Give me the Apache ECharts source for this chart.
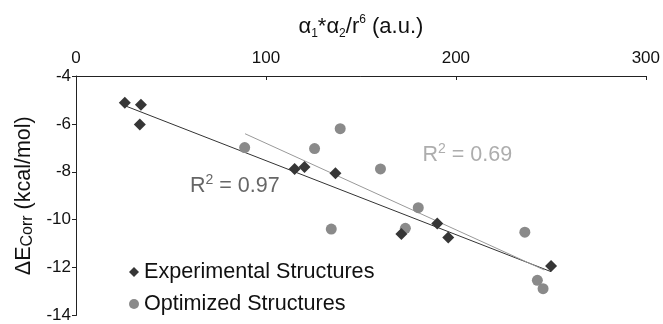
<!DOCTYPE html>
<html>
<head>
<meta charset="utf-8">
<script src="https://cdn.jsdelivr.net/npm/echarts@6/dist/echarts.min.js"></script>
<style>
html,body{margin:0;padding:0;background:#fff;}
#chart{width:663px;height:324px;}
</style>
</head>
<body>
<div id="chart"></div>
<script>
// Data
const expX = [25.7, 34.2, 33.6, 115.1, 120.3, 136.6, 171.3, 190.2, 196.0, 250.1];
const expY = [-5.12, -5.20, -6.02, -7.88, -7.80, -8.06, -10.60, -10.16, -10.74, -11.93];
const optX = [88.8, 125.6, 139.1, 160.3, 134.4, 173.4, 180.2, 236.3, 242.9, 245.9];
const optY = [-6.99, -7.03, -6.20, -7.88, -10.39, -10.36, -9.50, -10.52, -12.53, -12.88];
// trend line end points
const expTrendX = [25.7, 250.1];
const expTrendY = [-5.24, -12.17];
const optTrendX = [89.0, 246.5];
const optTrendY = [-6.41, -12.10];
const r2Values = ['0.97', '0.69'];
const xTicks = [0, 100, 200, 300];
const yTicks = [-14, -12, -10, -8, -6, -4];

const zip = (a, b) => a.map((v, i) => [v, b[i]]);
const FONT = '"Liberation Sans", Arial, sans-serif';

function r2Label(val, color) {
  return {
    formatter: '{r|R}{p|2}{r| = ' + val + '}',
    rich: {
      r: {fontSize: 21.5, color: color, lineHeight: 24, verticalAlign: 'bottom', fontFamily: FONT},
      p: {fontSize: 14, color: color, lineHeight: 24, verticalAlign: 'top', fontFamily: FONT}
    }
  };
}

const chart = echarts.init(document.getElementById('chart'), null, {renderer: 'canvas'});
chart.setOption({
  animation: false,
  textStyle: {fontFamily: FONT},
  grid: {left: 76, right: 16, top: 76, bottom: 6, containLabel: false},
  xAxis: {
    type: 'value', position: 'top', min: xTicks[0], max: xTicks[xTicks.length - 1], interval: 100,
    axisLine: {onZero: false, lineStyle: {color: '#222', width: 1}},
    axisTick: {inside: true, length: 4, lineStyle: {color: '#222'}},
    axisLabel: {fontSize: 17, color: '#111', margin: 9, fontFamily: FONT},
    splitLine: {show: false},
    name: '{a|α}{sub|1}{a|*α}{sub|2}{a|/r}{sup|6}{a| (a.u.)}',
    nameLocation: 'middle', nameGap: 36,
    nameTextStyle: {
      rich: {
        a: {fontSize: 22, color: '#111', lineHeight: 26, verticalAlign: 'middle', fontFamily: FONT},
        sub: {fontSize: 12, color: '#111', lineHeight: 12, verticalAlign: 'bottom', fontFamily: FONT},
        sup: {fontSize: 12, color: '#111', lineHeight: 12, verticalAlign: 'top', fontFamily: FONT}
      }
    }
  },
  yAxis: {
    type: 'value', min: yTicks[0], max: yTicks[yTicks.length - 1], interval: 2,
    axisLine: {show: true, onZero: false, lineStyle: {color: '#222', width: 1}},
    axisTick: {show: true, length: 4, lineStyle: {color: '#222'}},
    axisLabel: {fontSize: 17, color: '#111', margin: 5, fontFamily: FONT},
    splitLine: {show: false},
    name: '{a|ΔE}{s|Corr}{a| (kcal/mol)}',
    nameLocation: 'middle', nameGap: 38, nameRotate: 90,
    nameTextStyle: {
      rich: {
        a: {fontSize: 21.5, color: '#111', lineHeight: 24, verticalAlign: 'bottom', fontFamily: FONT},
        s: {fontSize: 16, color: '#111', lineHeight: 21, verticalAlign: 'bottom', fontFamily: FONT}
      }
    }
  },
  legend: {
    data: ['Experimental Structures', 'Optimized Structures'],
    orient: 'vertical', left: 129, top: 261, itemGap: 10, padding: 0,
    itemWidth: 10, itemHeight: 10,
    textStyle: {fontSize: 21.6, color: '#111', lineHeight: 20, fontFamily: FONT}
  },
  series: [
    {
      name: 'Experimental trend', type: 'line', data: zip(expTrendX, expTrendY),
      showSymbol: false, symbol: 'none', lineStyle: {color: '#333', width: 1}, z: 2, silent: true
    },
    {
      name: 'Optimized trend', type: 'line', data: zip(optTrendX, optTrendY),
      showSymbol: false, symbol: 'none', lineStyle: {color: '#999', width: 1}, z: 2, silent: true
    },
    {
      name: 'Experimental Structures', type: 'scatter', symbol: 'diamond', symbolSize: [12, 12],
      itemStyle: {color: '#363636', opacity: 1}, data: zip(expX, expY), z: 4
    },
    {
      name: 'Optimized Structures', type: 'scatter', symbol: 'circle', symbolSize: 11,
      itemStyle: {color: '#8a8a8a', opacity: 1}, data: zip(optX, optY), z: 3
    },
    {
      name: 'labels', type: 'scatter', symbolSize: 0, silent: true,
      data: [
        {value: [83.6, -8.55], label: r2Label(r2Values[0], '#404040')},
        {value: [206, -7.26], label: r2Label(r2Values[1], '#999')}
      ],
      label: {show: true, position: 'inside'}
    }
  ]
});
</script>
</body>
</html>
